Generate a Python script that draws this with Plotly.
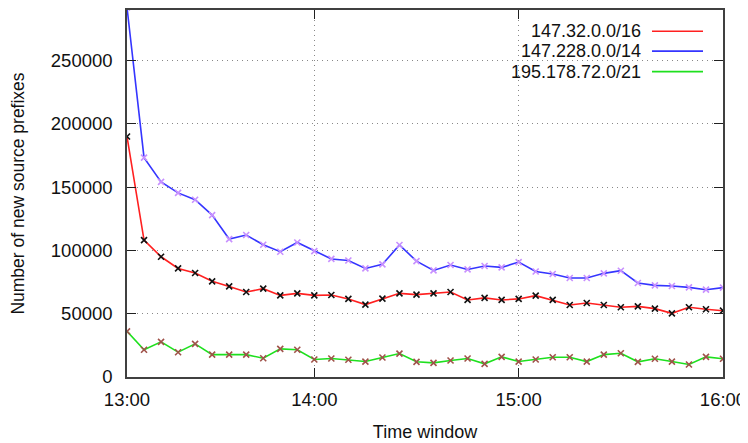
import plotly.graph_objects as go

# x positions: one sample per time window (index), labels at 13:00..16:00
x_index = list(range(36))
tick_positions = [0, 11, 23, 35]
tick_labels = ["13:00", "14:00", "15:00", "16:00"]

series_names = ["147.32.0.0/16", "147.228.0.0/14", "195.178.72.0/21"]

red_vals = [190000, 108200, 95000, 85800, 82200, 75600, 71600, 67200, 69800, 64500,
            66100, 64500, 64800, 61700, 57200, 61900, 66100, 65100, 66100, 67200,
            60900, 62500, 60900, 61700, 64300, 60900, 56900, 58500, 56900, 55100,
            55800, 54000, 50300, 55100, 53500, 52400]

blue_vals = [292000, 173300, 154200, 145500, 140100, 127900, 109000, 112200, 104500, 99000,
             106300, 99500, 93300, 92100, 85800, 89000, 104300, 91600, 84200, 88500,
             85000, 87700, 86600, 90800, 83400, 81400, 78200, 78200, 81900, 84000,
             74300, 72400, 71900, 70800, 69000, 70600]

green_vals = [36100, 21500, 27800, 19600, 26200, 17700, 17700, 17700, 14800, 22200,
              21500, 13800, 14600, 13600, 12200, 15400, 18500, 12000, 11200, 13000,
              14600, 10400, 15900, 12200, 13800, 15600, 15600, 12200, 17700, 18800,
              12000, 14400, 12200, 9900, 15900, 14400]

y_ticks = [0, 50000, 100000, 150000, 200000, 250000]

line_colors = ["#ff2020", "#3535ff", "#1ee01e"]
marker_colors = ["#111111", "#c890ff", "#a0524a"]
all_vals = [red_vals, blue_vals, green_vals]

FONT = "Liberation Sans, Arial, sans-serif"

# figure sits 8px in from the page corner (page body margin)
FIG_W, FIG_H = 740, 435
ML, MR, MT, MB = 119, 25, 0, 66
PLOT_W = FIG_W - ML - MR
PLOT_H = FIG_H - MT - MB

fig = go.Figure()
for name, vals, lc, mc in zip(series_names, all_vals, line_colors, marker_colors):
    fig.add_trace(go.Scatter(
        x=x_index, y=vals, name=name, mode="lines+markers",
        line=dict(color=lc, width=1.6),
        marker=dict(symbol="x-thin", size=6, line=dict(color=mc, width=1.6)),
        showlegend=False,
    ))

axis_common = dict(
    showline=True, linecolor="#404040", linewidth=1.5, mirror="ticks",
    ticks="inside", ticklen=9, tickwidth=1.3, tickcolor="#202020",
    showgrid=True, gridcolor="#888888", gridwidth=1, griddash="1px,4px",
    zeroline=False,
    tickfont=dict(family=FONT, size=18.5, color="#111111"),
)

fig.update_xaxes(
    range=[0, 35], tickmode="array", tickvals=tick_positions, ticktext=tick_labels,
    ticklabelstandoff=5,
    title=dict(text="Time window", font=dict(family=FONT, size=18, color="#111111"), standoff=16),
    **axis_common,
)
fig.update_yaxes(
    range=[0, 290000], tickmode="array", tickvals=y_ticks, tickformat="d",
    ticklabelstandoff=9,
    title=dict(text="Number of new source prefixes", font=dict(family=FONT, size=17.5, color="#111111"), standoff=23),
    **axis_common,
)

# key (gnuplot-style: text right-aligned, sample line to the right)
shapes = [dict(type="rect", xref="paper", yref="paper", x0=0.595, x1=1.0, y0=0.81, y1=0.975,
               fillcolor="white", line=dict(width=0), layer="between")]
annotations = []
row_y = [21.3, 41.3, 62.0]  # centre of each key row, px from plot top
for name, lc, yy in zip(series_names, line_colors, row_y):
    yp = 1 - yy / PLOT_H
    annotations.append(dict(xref="paper", yref="paper", x=(643 - 127) / PLOT_W, y=yp,
                            text=name, showarrow=False, xanchor="right", yanchor="middle",
                            font=dict(family=FONT, size=18, color="#111111")))
    shapes.append(dict(type="line", xref="paper", yref="paper",
                       x0=(652 - 127) / PLOT_W, x1=(703 - 127) / PLOT_W, y0=yp, y1=yp,
                       line=dict(color=lc, width=1.6), layer="above"))

fig.update_layout(
    width=FIG_W, height=FIG_H,
    margin=dict(l=ML, r=MR, t=MT, b=MB),
    plot_bgcolor="white", paper_bgcolor="white",
    shapes=shapes, annotations=annotations,
    font=dict(family=FONT),
)

fig.write_html("out.html", config={"displayModeBar": False},
               post_script="document.documentElement.style.overflow='hidden';")
